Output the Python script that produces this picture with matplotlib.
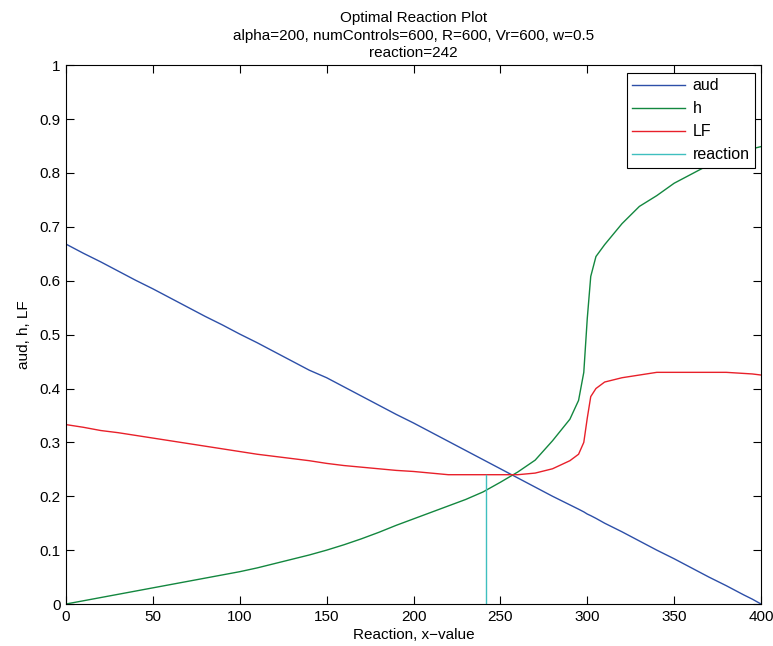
import matplotlib
matplotlib.use('Agg')
import matplotlib.pyplot as plt

plt.rcParams['font.family'] = ['Liberation Sans', 'DejaVu Sans']

# values
x_vals = [0, 10, 20, 30, 40, 50, 60, 70, 80, 90, 100, 110, 120, 130, 140, 150,
          160, 170, 180, 190, 200, 210, 220, 230, 240, 250, 260, 270, 280, 290,
          295, 298, 300, 302, 305, 310, 320, 330, 340, 350, 360, 370, 380, 390,
          395, 400]
aud = [0.668, 0.651, 0.635, 0.618, 0.601, 0.585, 0.568, 0.551, 0.534, 0.518,
       0.501, 0.485, 0.468, 0.451, 0.434, 0.420, 0.403, 0.386, 0.369, 0.352,
       0.336, 0.319, 0.302, 0.285, 0.268, 0.251, 0.234, 0.217, 0.200, 0.184,
       0.176, 0.171, 0.167, 0.164, 0.159, 0.150, 0.134, 0.117, 0.100, 0.084,
       0.067, 0.050, 0.034, 0.017, 0.009, 0.0]
h = [0.0, 0.006, 0.012, 0.018, 0.024, 0.030, 0.036, 0.042, 0.048, 0.054,
     0.060, 0.067, 0.075, 0.083, 0.091, 0.100, 0.110, 0.121, 0.133, 0.146,
     0.158, 0.170, 0.182, 0.194, 0.208, 0.226, 0.245, 0.267, 0.303, 0.343,
     0.378, 0.430, 0.530, 0.608, 0.645, 0.667, 0.706, 0.738, 0.758, 0.781,
     0.798, 0.815, 0.830, 0.840, 0.845, 0.849]
lf = [0.333, 0.328, 0.322, 0.318, 0.313, 0.308, 0.303, 0.298, 0.293, 0.288,
      0.283, 0.278, 0.274, 0.270, 0.266, 0.261, 0.257, 0.254, 0.251, 0.248,
      0.246, 0.243, 0.240, 0.240, 0.240, 0.240, 0.240, 0.243, 0.251, 0.266,
      0.278, 0.300, 0.345, 0.385, 0.400, 0.412, 0.420, 0.425, 0.430, 0.430,
      0.430, 0.430, 0.430, 0.428, 0.427, 0.425]
reaction_x = [242, 242]
reaction_y = [0.0, 0.240]

x_ticks = [0, 50, 100, 150, 200, 250, 300, 350, 400]
y_ticks = [0, 0.1, 0.2, 0.3, 0.4, 0.5, 0.6, 0.7, 0.8, 0.9, 1]
y_tick_labels = ['0', '0.1', '0.2', '0.3', '0.4', '0.5', '0.6', '0.7', '0.8', '0.9', '1']

fig = plt.figure(figsize=(7.73, 6.46), dpi=100)
ax = fig.add_axes([0.0854, 0.065, 0.8991, 0.834])

ax.plot(x_vals, aud, color='#2d4fa8', linewidth=1.0, label='aud')
ax.plot(x_vals, h, color='#13873f', linewidth=1.0, label='h')
ax.plot(x_vals, lf, color='#e8202a', linewidth=1.0, label='LF')
ax.plot(reaction_x, reaction_y, color='#3fbfbf', linewidth=1.0, label='reaction')

ax.set_xlim(0, 400)
ax.set_ylim(0, 1)
ax.set_xticks(x_ticks)
ax.set_yticks(y_ticks)
ax.set_yticklabels(y_tick_labels)
ax.tick_params(direction='in', length=6, width=0.8, top=True, right=True,
               labelsize=11, pad=4)
for s in ax.spines.values():
    s.set_linewidth(0.8)

ax.set_xlabel('Reaction, x\u2212value', fontsize=11, labelpad=3)
ax.set_ylabel('aud, h, LF', fontsize=11, labelpad=6)
ax.set_title('Optimal Reaction Plot\nalpha=200, numControls=600, R=600, Vr=600, w=0.5\nreaction=242',
             fontsize=11, linespacing=1.3, pad=6)

leg = ax.legend(loc='upper right', bbox_to_anchor=(0.992, 0.986), fontsize=11.5,
                fancybox=False, framealpha=1, edgecolor='black',
                handlelength=3.3, borderpad=0.35, labelspacing=0.5,
                handletextpad=0.5, borderaxespad=0)
leg.get_frame().set_linewidth(0.8)

fig.savefig('out.png', dpi=100)
